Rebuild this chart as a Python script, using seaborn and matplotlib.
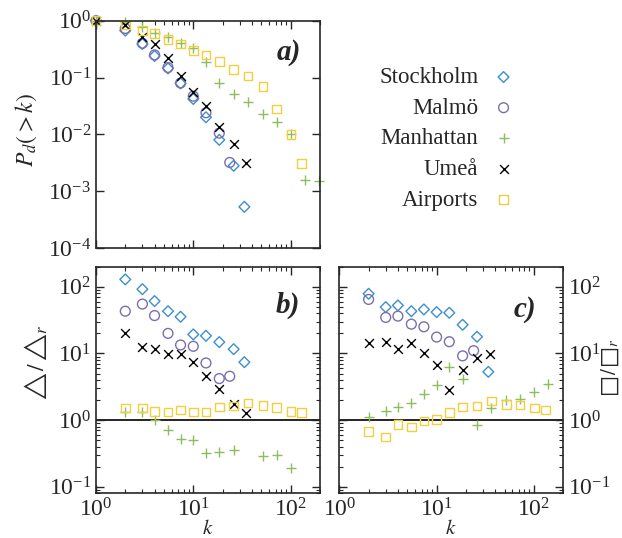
import numpy as np
import pandas as pd
import matplotlib
matplotlib.use('Agg')
import matplotlib.pyplot as plt
import matplotlib.ticker as mticker
import seaborn as sns

# ---- data ----
names = ['Stockholm', 'Malmö', 'Manhattan', 'Umeå', 'Airports']
colors = {'Stockholm': '#3d8fcd', 'Malmö': '#7a6fae', 'Manhattan': '#8cbd5f',
          'Umeå': 'black', 'Airports': '#f3cf3e'}
markers = {'Stockholm': 'D', 'Malmö': 'o', 'Manhattan': '+', 'Umeå': 'x', 'Airports': 's'}
sizes = {'Stockholm': 30, 'Malmö': 50, 'Manhattan': 60, 'Umeå': 40, 'Airports': 38}

# panel a: P_d(>k)
stock_k_a = [1, 2, 3, 4, 5.5, 7.4, 10, 13.5, 18.5, 26, 33.5]
stock_a = [1, 0.67, 0.39, 0.24, 0.145, 0.079, 0.042, 0.020, 0.008, 0.0028, 0.00053]
malmo_k_a = [1, 2, 3, 4, 5.5, 7.4, 10, 13.5, 18.5, 23.7]
malmo_a = [1, 0.73, 0.40, 0.25, 0.15, 0.08, 0.047, 0.024, 0.0105, 0.0032]
manh_k_a = [1, 2, 3, 4, 5.5, 7.4, 10, 13.5, 18.5, 26, 36.6, 52, 72, 101, 139, 198]
manh_a = [1, 0.95, 0.78, 0.6, 0.52, 0.41, 0.33, 0.19, 0.079, 0.051, 0.037, 0.023,
          0.0165, 0.01, 0.0016, 0.0015]
umea_k_a = [1, 2, 3, 4, 5.5, 7.4, 10, 13.5, 18.5, 26, 35]
umea_a = [1, 0.84, 0.51, 0.39, 0.22, 0.106, 0.055, 0.032, 0.0135, 0.0067, 0.0031]
airp_k_a = [1, 2, 3, 4, 5.5, 7.4, 10, 13.5, 18.5, 26, 36.6, 52, 72, 101, 130]
airp_a = [1, 0.84, 0.68, 0.6, 0.47, 0.39, 0.30, 0.25, 0.19, 0.14, 0.106, 0.069,
          0.028, 0.01, 0.0031]

# panel b: triangles / random triangles
stock_k_b = [2, 3, 4, 5.5, 7.4, 10, 13.5, 18.5, 26, 33.5]
stock_b = [129, 92, 61, 43, 35.5, 19.3, 18.4, 14.8, 11.6, 7.4]
malmo_k_b = [2, 3, 4, 5.5, 7.4, 10, 13.5, 18.5, 23.7]
malmo_b = [43, 55, 37, 20, 13.4, 12.8, 7.2, 4.2, 4.55]
manh_k_b = [2, 3, 4, 5.5, 7.4, 10, 13.5, 18.5, 26, 52, 72, 101]
manh_b = [1.33, 1.33, 1.02, 0.71, 0.53, 0.51, 0.325, 0.336, 0.36, 0.29, 0.30, 0.19]
umea_k_b = [2, 3, 4, 5.5, 7.4, 10, 13.5, 18.5, 26, 35]
umea_b = [20, 12.5, 11.6, 9.8, 9.8, 7.5, 4.65, 2.97, 1.77, 1.29]
airp_k_b = [2, 3, 4, 5.5, 7.4, 10, 13.5, 18.5, 26, 36.6, 52, 72, 101, 130]
airp_b = [1.53, 1.53, 1.36, 1.33, 1.41, 1.33, 1.33, 1.58, 1.62, 1.82, 1.66, 1.56,
          1.36, 1.29]

# panel c: squares / random squares
stock_k_c = [2, 3, 4, 5.5, 7.4, 10, 13.5, 18.5, 26, 34]
stock_c = [78.5, 49.5, 52.5, 43, 45.7, 41.7, 40.7, 26.9, 17.8, 5.3]
malmo_k_c = [2, 3, 4, 5.5, 7.4, 10, 13.5, 18.5, 24]
malmo_c = [64.6, 34.7, 36.3, 27.5, 25.1, 17.6, 15, 9.2, 11]
manh_k_c = [2, 3, 4, 5.5, 7.4, 10, 13.5, 18.5, 26, 36.6, 52, 72, 101, 140]
manh_c = [1.11, 1.35, 1.58, 1.78, 2.5, 3.35, 6.3, 4.17, 0.84, 1.5, 2.0, 2.09, 2.66, 3.43]
umea_k_c = [2, 3, 4, 5.5, 7.4, 10, 13.5, 18.5, 26, 35]
umea_c = [14.1, 14.8, 11.5, 14.5, 10.2, 6.6, 2.8, 5.6, 8.6, 9.9]
airp_k_c = [2, 3, 4, 5.5, 7.4, 10, 13.5, 18.5, 26, 36.6, 52, 72, 101, 131]
airp_c = [0.67, 0.56, 0.86, 0.79, 0.97, 1.02, 1.29, 1.58, 1.62, 1.93, 1.72, 1.68,
          1.53, 1.41]

panel_a = {'Stockholm': (stock_k_a, stock_a), 'Malmö': (malmo_k_a, malmo_a),
           'Manhattan': (manh_k_a, manh_a), 'Umeå': (umea_k_a, umea_a),
           'Airports': (airp_k_a, airp_a)}
panel_b = {'Stockholm': (stock_k_b, stock_b), 'Malmö': (malmo_k_b, malmo_b),
           'Manhattan': (manh_k_b, manh_b), 'Umeå': (umea_k_b, umea_b),
           'Airports': (airp_k_b, airp_b)}
panel_c = {'Stockholm': (stock_k_c, stock_c), 'Malmö': (malmo_k_c, malmo_c),
           'Manhattan': (manh_k_c, manh_c), 'Umeå': (umea_k_c, umea_c),
           'Airports': (airp_k_c, airp_c)}

sns.set_style('ticks')
plt.rcParams['font.family'] = ['Liberation Serif', 'DejaVu Serif']
plt.rcParams['mathtext.fontset'] = 'stix'
plt.rcParams['axes.linewidth'] = 1.2

fig = plt.figure(figsize=(6.22, 5.38), dpi=100)
ax_a = fig.add_axes([0.1543, 0.539, 0.360, 0.4225])
ax_b = fig.add_axes([0.1543, 0.0831, 0.360, 0.4212])
ax_c = fig.add_axes([0.5455, 0.0831, 0.360, 0.4212])


def draw(ax, panel):
    for name in names:
        k, v = panel[name]
        df = pd.DataFrame({'k': k, 'v': v})
        m = markers[name]
        c = colors[name]
        kw = dict(marker=m, s=sizes[name], linewidth=1.0, clip_on=False, label=name)
        if m in ('D', 'o', 's'):
            kw.update(facecolor='none', edgecolor=c, color=c)
        else:
            kw.update(color=c)
        sns.scatterplot(data=df, x='k', y='v', ax=ax, **kw)
    ax.set_xscale('log')
    ax.set_yscale('log')
    ax.set_xlim(1, 200)
    ax.tick_params(which='both', direction='in', top=True, right=True, labelsize=17)
    ax.tick_params(which='major', length=6, width=1)
    ax.tick_params(which='minor', length=3, width=0.8)
    ax.xaxis.set_major_locator(mticker.LogLocator(base=10, numticks=10))
    ax.xaxis.set_minor_locator(mticker.LogLocator(base=10, subs=np.arange(2, 10), numticks=10))
    ax.set_xlabel('')
    ax.set_ylabel('')
    if ax.get_legend() is not None:
        ax.get_legend().remove()


draw(ax_a, panel_a)
ax_a.set_ylim(1e-4, 1.0)
ax_a.yaxis.set_minor_locator(mticker.NullLocator())
ax_a.set_yticks([1e-4, 1e-3, 1e-2, 1e-1, 1])
ax_a.tick_params(labelbottom=False)
ax_a.set_ylabel(r'$P_d(>k)$', fontsize=17)
ax_a.yaxis.set_label_coords(-0.255, 0.52)
ax_a.text(0.915, 0.86, 'a)', transform=ax_a.transAxes, ha='right', va='center',
          fontsize=21, fontweight='bold', fontstyle='italic')

handles, labels = ax_a.get_legend_handles_labels()
fig.legend(handles, labels, loc='upper right', bbox_to_anchor=(515 / 622, 1 - 67 / 538),
           frameon=False, markerfirst=False, fontsize=16.5, handlelength=1.0,
           handletextpad=0.6, labelspacing=0.42, borderpad=0, borderaxespad=0)

for ax, panel, lab in [(ax_b, panel_b, 'b)'), (ax_c, panel_c, 'c)')]:
    draw(ax, panel)
    ax.axhline(1, color='black', linewidth=1.2, zorder=0)
    ax.set_ylim(0.08, 200)
    ax.set_yticks([0.1, 1, 10, 100])
    ax.yaxis.set_minor_locator(mticker.LogLocator(base=10, subs=np.arange(2, 10), numticks=10))
    ax.set_xlabel(r'$k$', fontsize=15, labelpad=-1)

ax_b.set_ylabel('$\u25b3\\,/\\,\u25b3_r$', fontsize=17)
ax_b.yaxis.set_label_coords(-0.205, 0.58)
ax_b.text(0.91, 0.83, 'b)', transform=ax_b.transAxes, ha='right', va='center',
          fontsize=21, fontweight='bold', fontstyle='italic')

ax_c.yaxis.tick_right()
ax_c.tick_params(which='both', left=True, right=True, labelleft=False, labelright=True)
ax_c.yaxis.set_label_position('right')
ax_c.set_ylabel('$\u25a1\\,/\\,\u25a1_r$', fontsize=15)
ax_c.yaxis.set_label_coords(1.162, 0.556)
ax_c.text(0.88, 0.81, 'c)', transform=ax_c.transAxes, ha='right', va='center',
          fontsize=21, fontweight='bold', fontstyle='italic')

fig.savefig('out.png', dpi=100)
